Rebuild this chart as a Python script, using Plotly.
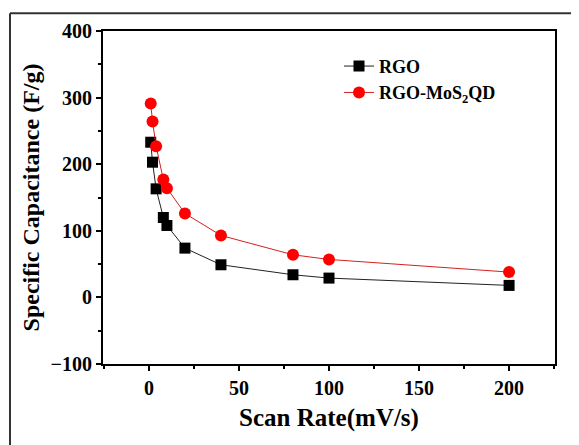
import plotly.graph_objects as go

scan_rate = [1, 2, 4, 8, 10, 20, 40, 80, 100, 200]
rgo = [233, 203, 163, 120, 108, 74, 49, 34, 29, 18]
rgo_mos2qd = [291, 264, 227, 177, 164, 126, 93, 64, 57, 38]

series_names = ["RGO", "RGO-MoS<sub>2</sub>QD"]
x_ticks = [0, 50, 100, 150, 200]
y_ticks = [-100, 0, 100, 200, 300, 400]

FONT = "Liberation Serif"

fig = go.Figure()
fig.add_trace(go.Scatter(
    x=scan_rate, y=rgo, name=series_names[0], mode="lines+markers",
    line=dict(color="#222222", width=1),
    marker=dict(symbol="square", size=11, color="black"),
))
fig.add_trace(go.Scatter(
    x=scan_rate, y=rgo_mos2qd, name=series_names[1], mode="lines+markers",
    line=dict(color="#d42020", width=1),
    marker=dict(symbol="circle", size=12, color="#ff0000"),
))

axis_common = dict(
    showline=True, linecolor="black", linewidth=2, mirror=True,
    showgrid=False, zeroline=False,
    ticks="outside", ticklen=5, tickwidth=2, tickcolor="black",
    tickfont=dict(family=FONT, size=20, color="black", weight="bold"),
)

fig.update_xaxes(
    range=[-25.5, 225.5], tickvals=x_ticks,
    minor=dict(dtick=25, ticks="outside", ticklen=3, tickwidth=2, tickcolor="black"),
    title=dict(text="Scan Rate(mV/s)", font=dict(family=FONT, size=25, color="black", weight="bold"), standoff=10),
    **axis_common,
)
fig.update_yaxes(
    range=[-100, 400], tickvals=y_ticks,
    minor=dict(dtick=50, ticks="outside", ticklen=3, tickwidth=2, tickcolor="black"),
    title=dict(text="Specific Capacitance (F/g)", font=dict(family=FONT, size=24, color="black", weight="bold"), standoff=4),
    **axis_common,
)

# page body adds an 8px offset; positions below are screen pixels
OFF = 8
W, H = 579, 445
PL, PR, PT, PB = 103, 555, 28, 364  # plot area in screen pixels
L, T = PL - OFF, PT - OFF
R, B = W - (PR - OFF), H - (PB - OFF)
pw, ph = PR - PL, PB - PT

def px(xs):
    return (xs - PL) / pw

def py(ys):
    return (PB - ys) / ph

fig.add_shape(type="line", xref="paper", yref="paper",
              x0=px(10), x1=px(10), y0=py(10), y1=py(470),
              line=dict(color="#333333", width=2))
fig.add_shape(type="line", xref="paper", yref="paper",
              x0=px(10), x1=px(610), y0=py(10), y1=py(10),
              line=dict(color="#333333", width=2))

fig.update_layout(
    width=W, height=H,
    margin=dict(l=L, r=R, t=T, b=B),
    paper_bgcolor="white", plot_bgcolor="white",
    showlegend=True,
    legend=dict(
        x=px(339), y=py(45), xanchor="left", yanchor="top",
        bgcolor="rgba(0,0,0,0)", borderwidth=0,
        font=dict(family=FONT, size=18, color="black", weight="bold"),
        tracegroupgap=0, itemwidth=30,
    ),
)

fig.write_html("out.html")
